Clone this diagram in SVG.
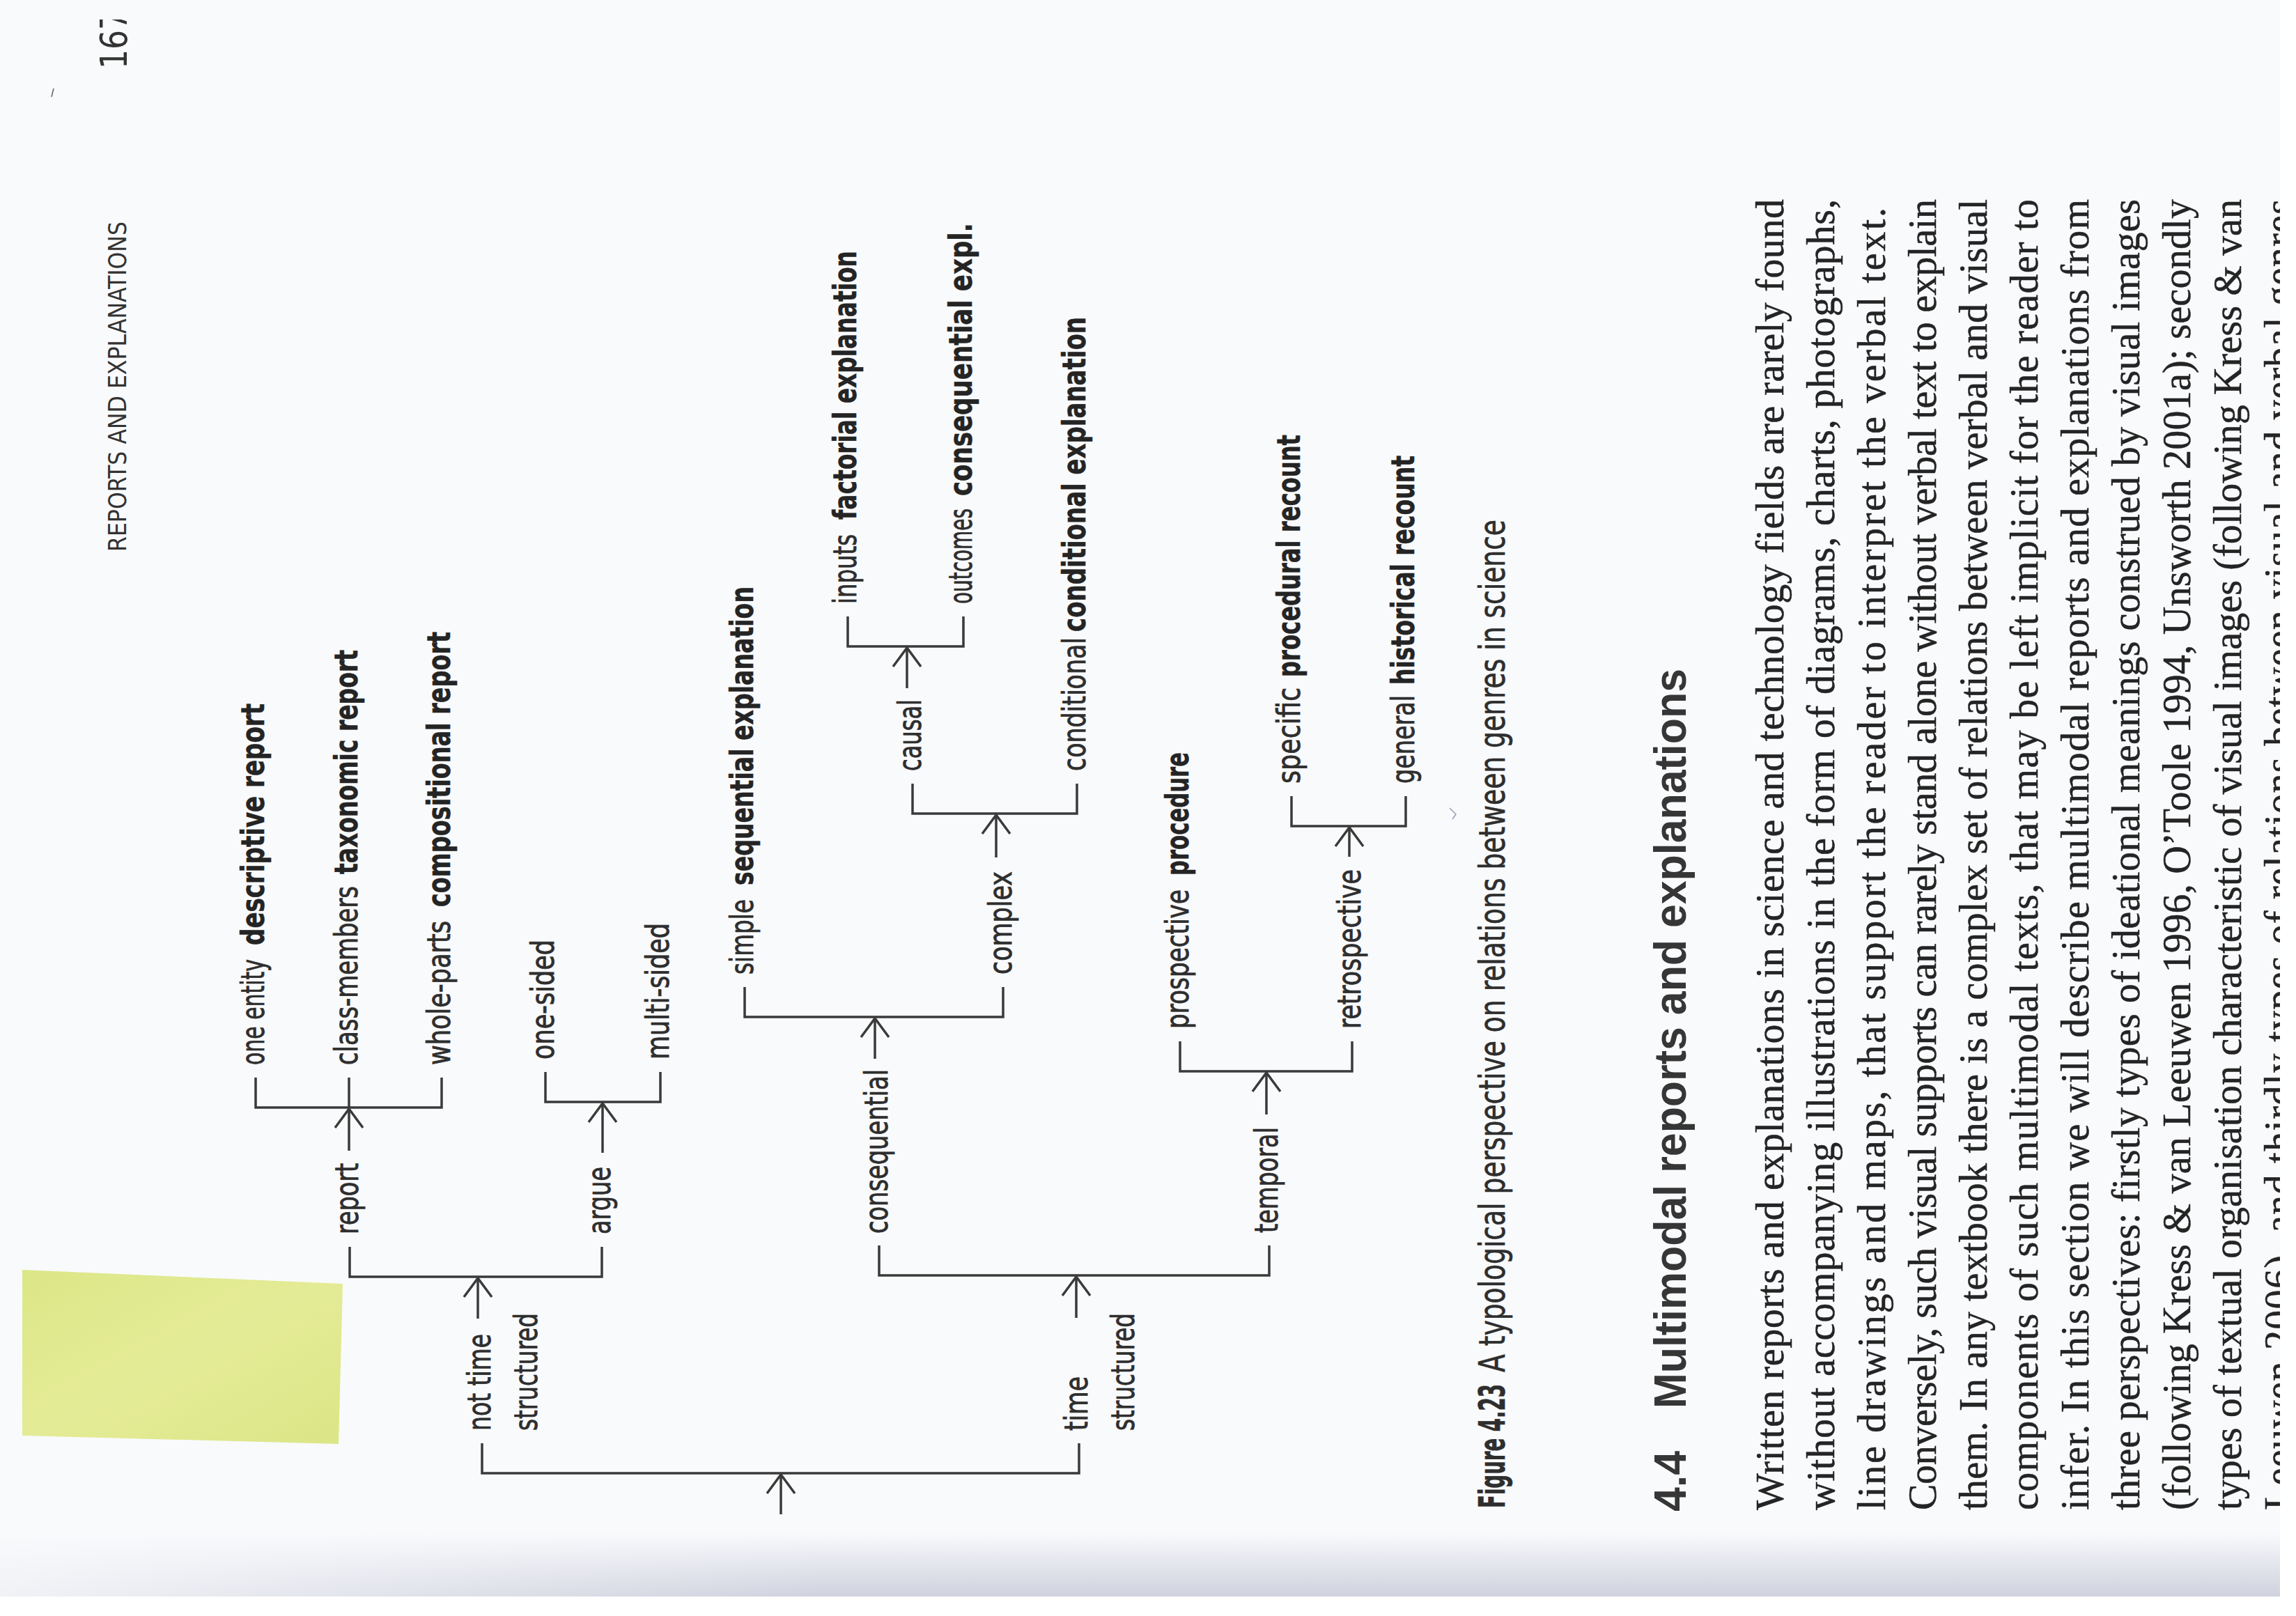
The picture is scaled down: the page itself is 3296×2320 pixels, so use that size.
<svg xmlns="http://www.w3.org/2000/svg" width="3296" height="2320" viewBox="0 0 3296 2320">
<defs>
<style>
.lab{font-family:"Liberation Sans Narrow","DejaVu Sans Condensed","Liberation Sans",sans-serif;font-size:46px;fill:#2e2e2e;stroke:#2e2e2e;stroke-width:0.8}
.b{font-weight:bold;fill:#242424;stroke:#242424;stroke-width:0.5}
.cap{font-family:"Liberation Sans Narrow","DejaVu Sans Condensed","Liberation Sans",sans-serif;font-size:51px;fill:#2e2e2e;stroke:#2e2e2e;stroke-width:0.6}
.hd{font-family:"Liberation Sans","DejaVu Sans",sans-serif;font-weight:bold;font-size:65px;fill:#363636}
.body{font-family:"Liberation Serif","DejaVu Serif",serif;font-size:56px;fill:#242424;stroke:#242424;stroke-width:0.5}
.run{font-family:"Liberation Sans Narrow","DejaVu Sans Condensed","Liberation Sans",sans-serif;font-size:35px;fill:#333}
.con{fill:none;stroke:#3a3a3a;stroke-width:3.5;stroke-linejoin:miter}
.arr{fill:none;stroke:#3a3a3a;stroke-width:3.5;marker-end:url(#head)}
</style>
<marker id="head" markerUnits="userSpaceOnUse" orient="auto" refX="0" refY="0" markerWidth="60" markerHeight="60" overflow="visible">
<path d="M-27,-20 L0,0 L-27,20" fill="none" stroke="#3a3a3a" stroke-width="3.5"/>
</marker>
<linearGradient id="band" x1="0" y1="0" x2="0" y2="1">
<stop offset="0" stop-color="#f9fafc"/>
<stop offset="1" stop-color="#cfd1de"/>
</linearGradient>
<linearGradient id="bandfade" x1="0" y1="0" x2="1" y2="0">
<stop offset="0" stop-color="#f9fafc" stop-opacity="0.8"/>
<stop offset="1" stop-color="#f9fafc" stop-opacity="0"/>
</linearGradient>
<linearGradient id="note" x1="0" y1="0" x2="1" y2="1">
<stop offset="0" stop-color="#dce788"/>
<stop offset="0.5" stop-color="#e4eb96"/>
<stop offset="1" stop-color="#dbe687"/>
</linearGradient>
<clipPath id="topclip"><rect x="0" y="28" width="3296" height="2292"/></clipPath>
</defs>

<rect x="0" y="0" width="3296" height="2320" fill="#f9fafc"/>
<rect x="0" y="2200" width="3273" height="92" fill="url(#band)"/>
<rect x="0" y="2200" width="1200" height="92" fill="url(#bandfade)"/>
<rect x="0" y="2292" width="3296" height="28" fill="#ffffff"/>

<polygon points="32,1823 492,1843 486,2073 32,2061" fill="url(#note)"/>
<line x1="74" y1="139" x2="77" y2="127" stroke="#666" stroke-width="1.5"/>
<path d="M2081,1160 L2090,1169 L2085,1176" fill="none" stroke="#9a9ab4" stroke-width="1.5"/>

<g id="running-head">
<text class="run" transform="translate(181,792) rotate(-90)" textLength="474" lengthAdjust="spacingAndGlyphs">REPORTS AND EXPLANATIONS</text>
<g clip-path="url(#topclip)">
<text class="run" style="font-size:54px" transform="translate(182,99) rotate(-90)" textLength="84" lengthAdjust="spacingAndGlyphs">167</text>
</g>
</g>

<g id="connectors">
<path class="arr" d="M1121,2174 V2117"/>
<path class="con" d="M692,2072 V2115 H1549 V2072"/>
<path class="arr" d="M686,1893 V1835"/>
<path class="con" d="M502,1790 V1833 H864 V1790"/>
<path class="arr" d="M1545,1892 V1833"/>
<path class="con" d="M1262,1788 V1831 H1822 V1788"/>
<path class="arr" d="M501,1652 V1592"/>
<path class="con" d="M367,1547 V1590 H634 V1547 M501,1590 V1547"/>
<path class="arr" d="M865,1655 V1584"/>
<path class="con" d="M783,1539 V1582 H948 V1539"/>
<path class="arr" d="M1256,1520 V1462"/>
<path class="con" d="M1069,1417 V1460 H1440 V1417"/>
<path class="arr" d="M1430,1231 V1170"/>
<path class="con" d="M1310,1125 V1168 H1546 V1125"/>
<path class="arr" d="M1302,988 V930"/>
<path class="con" d="M1217,885 V928 H1383 V885"/>
<path class="arr" d="M1818,1600 V1540"/>
<path class="con" d="M1694,1495 V1538 H1941 V1495"/>
<path class="arr" d="M1937,1230 V1188"/>
<path class="con" d="M1854,1143 V1186 H2018 V1143"/>
</g>

<g id="n-not-time-structured">
<text class="lab" transform="translate(704,2054) rotate(-90)" textLength="139" lengthAdjust="spacingAndGlyphs">not time</text>
<text class="lab" transform="translate(771,2054) rotate(-90)" textLength="169" lengthAdjust="spacingAndGlyphs">structured</text>
</g>
<g id="n-time-structured">
<text class="lab" transform="translate(1561,2054) rotate(-90)" textLength="78" lengthAdjust="spacingAndGlyphs">time</text>
<text class="lab" transform="translate(1628,2054) rotate(-90)" textLength="169" lengthAdjust="spacingAndGlyphs">structured</text>
</g>
<g id="n-report">
<text class="lab" transform="translate(514,1772) rotate(-90)" textLength="102" lengthAdjust="spacingAndGlyphs">report</text>
</g>
<g id="n-argue">
<text class="lab" transform="translate(876,1772) rotate(-90)" textLength="97" lengthAdjust="spacingAndGlyphs">argue</text>
</g>
<g id="n-one-entity">
<text class="lab" transform="translate(379,1529) rotate(-90)" textLength="152" lengthAdjust="spacingAndGlyphs">one entity</text>
<text class="lab b" transform="translate(379,1357) rotate(-90)" textLength="347" lengthAdjust="spacingAndGlyphs">descriptive report</text>
</g>
<g id="n-class-members">
<text class="lab" transform="translate(513,1529) rotate(-90)" textLength="257" lengthAdjust="spacingAndGlyphs">class-members</text>
<text class="lab b" transform="translate(513,1255) rotate(-90)" textLength="322" lengthAdjust="spacingAndGlyphs">taxonomic report</text>
</g>
<g id="n-whole-parts">
<text class="lab" transform="translate(646,1529) rotate(-90)" textLength="207" lengthAdjust="spacingAndGlyphs">whole-parts</text>
<text class="lab b" transform="translate(646,1302) rotate(-90)" textLength="395" lengthAdjust="spacingAndGlyphs">compositional report</text>
</g>
<g id="n-one-sided">
<text class="lab" transform="translate(795,1521) rotate(-90)" textLength="172" lengthAdjust="spacingAndGlyphs">one-sided</text>
</g>
<g id="n-multi-sided">
<text class="lab" transform="translate(960,1521) rotate(-90)" textLength="196" lengthAdjust="spacingAndGlyphs">multi-sided</text>
</g>
<g id="n-consequential">
<text class="lab" transform="translate(1274,1771) rotate(-90)" textLength="236" lengthAdjust="spacingAndGlyphs">consequential</text>
</g>
<g id="n-simple">
<text class="lab" transform="translate(1081,1399) rotate(-90)" textLength="108" lengthAdjust="spacingAndGlyphs">simple</text>
<text class="lab b" transform="translate(1081,1271) rotate(-90)" textLength="429" lengthAdjust="spacingAndGlyphs">sequential explanation</text>
</g>
<g id="n-complex">
<text class="lab" transform="translate(1452,1399) rotate(-90)" textLength="148" lengthAdjust="spacingAndGlyphs">complex</text>
</g>
<g id="n-causal">
<text class="lab" transform="translate(1322,1107) rotate(-90)" textLength="103" lengthAdjust="spacingAndGlyphs">causal</text>
</g>
<g id="n-conditional">
<text class="lab" transform="translate(1558,1107) rotate(-90)" textLength="192" lengthAdjust="spacingAndGlyphs">conditional</text>
<text class="lab b" transform="translate(1558,907) rotate(-90)" textLength="452" lengthAdjust="spacingAndGlyphs">conditional explanation</text>
</g>
<g id="n-inputs">
<text class="lab" transform="translate(1229,867) rotate(-90)" textLength="100" lengthAdjust="spacingAndGlyphs">inputs</text>
<text class="lab b" transform="translate(1229,746) rotate(-90)" textLength="386" lengthAdjust="spacingAndGlyphs">factorial explanation</text>
</g>
<g id="n-outcomes">
<text class="lab" transform="translate(1395,867) rotate(-90)" textLength="137" lengthAdjust="spacingAndGlyphs">outcomes</text>
<text class="lab b" transform="translate(1395,712) rotate(-90)" textLength="392" lengthAdjust="spacingAndGlyphs">consequential expl.</text>
</g>
<g id="n-temporal">
<text class="lab" transform="translate(1834,1770) rotate(-90)" textLength="152" lengthAdjust="spacingAndGlyphs">temporal</text>
</g>
<g id="n-prospective">
<text class="lab" transform="translate(1706,1477) rotate(-90)" textLength="200" lengthAdjust="spacingAndGlyphs">prospective</text>
<text class="lab b" transform="translate(1706,1257) rotate(-90)" textLength="177" lengthAdjust="spacingAndGlyphs">procedure</text>
</g>
<g id="n-retrospective">
<text class="lab" transform="translate(1953,1477) rotate(-90)" textLength="229" lengthAdjust="spacingAndGlyphs">retrospective</text>
</g>
<g id="n-specific">
<text class="lab" transform="translate(1866,1125) rotate(-90)" textLength="138" lengthAdjust="spacingAndGlyphs">specific</text>
<text class="lab b" transform="translate(1866,972) rotate(-90)" textLength="348" lengthAdjust="spacingAndGlyphs">procedural recount</text>
</g>
<g id="n-general">
<text class="lab" transform="translate(2030,1125) rotate(-90)" textLength="127" lengthAdjust="spacingAndGlyphs">general</text>
<text class="lab b" transform="translate(2030,983) rotate(-90)" textLength="329" lengthAdjust="spacingAndGlyphs">historical recount</text>
</g>

<g id="caption">
<text class="cap" style="font-weight:bold" transform="translate(2160,2165) rotate(-90)" textLength="178" lengthAdjust="spacingAndGlyphs">Figure 4.23</text>
<text class="cap" transform="translate(2160,1970) rotate(-90)" textLength="1224" lengthAdjust="spacingAndGlyphs">A typological perspective on relations between genres in science</text>
</g>

<g id="heading">
<text class="hd" transform="translate(2420,2170) rotate(-90)" textLength="87" lengthAdjust="spacingAndGlyphs">4.4</text>
<text class="hd" transform="translate(2420,2022) rotate(-90)" textLength="1062" lengthAdjust="spacingAndGlyphs">Multimodal reports and explanations</text>
</g>

<g id="body-text">
<text class="body" transform="translate(2560,2168) rotate(-90)" textLength="1882" lengthAdjust="spacing">Written reports and explanations in science and technology fields are rarely found</text>
<text class="body" transform="translate(2633,2168) rotate(-90)" textLength="1882" lengthAdjust="spacing">without accompanying illustrations in the form of diagrams, charts, photographs,</text>
<text class="body" transform="translate(2706,2168) rotate(-90)" textLength="1870" lengthAdjust="spacing">line drawings and maps, that support the reader to interpret the verbal text.</text>
<text class="body" transform="translate(2779,2168) rotate(-90)" textLength="1882" lengthAdjust="spacing">Conversely, such visual supports can rarely stand alone without verbal text to explain</text>
<text class="body" transform="translate(2852,2168) rotate(-90)" textLength="1882" lengthAdjust="spacing">them. In any textbook there is a complex set of relations between verbal and visual</text>
<text class="body" transform="translate(2925,2168) rotate(-90)" textLength="1882" lengthAdjust="spacing">components of such multimodal texts, that may be left implicit for the reader to</text>
<text class="body" transform="translate(2998,2168) rotate(-90)" textLength="1882" lengthAdjust="spacing">infer. In this section we will describe multimodal reports and explanations from</text>
<text class="body" transform="translate(3071,2168) rotate(-90)" textLength="1882" lengthAdjust="spacing">three perspectives: firstly types of ideational meanings construed by visual images</text>
<text class="body" transform="translate(3144,2168) rotate(-90)" textLength="1882" lengthAdjust="spacing">(following Kress &amp; van Leeuwen 1996, O’Toole 1994, Unsworth 2001a); secondly</text>
<text class="body" transform="translate(3217,2168) rotate(-90)" textLength="1882" lengthAdjust="spacing">types of textual organisation characteristic of visual images (following Kress &amp; van</text>
<text class="body" transform="translate(3290,2168) rotate(-90)" textLength="1882" lengthAdjust="spacing">Leeuwen 2006), and thirdly types of relations between visual and verbal genres</text>
</g>
<rect x="3273" y="0" width="23" height="2320" fill="#ffffff"/>
</svg>
